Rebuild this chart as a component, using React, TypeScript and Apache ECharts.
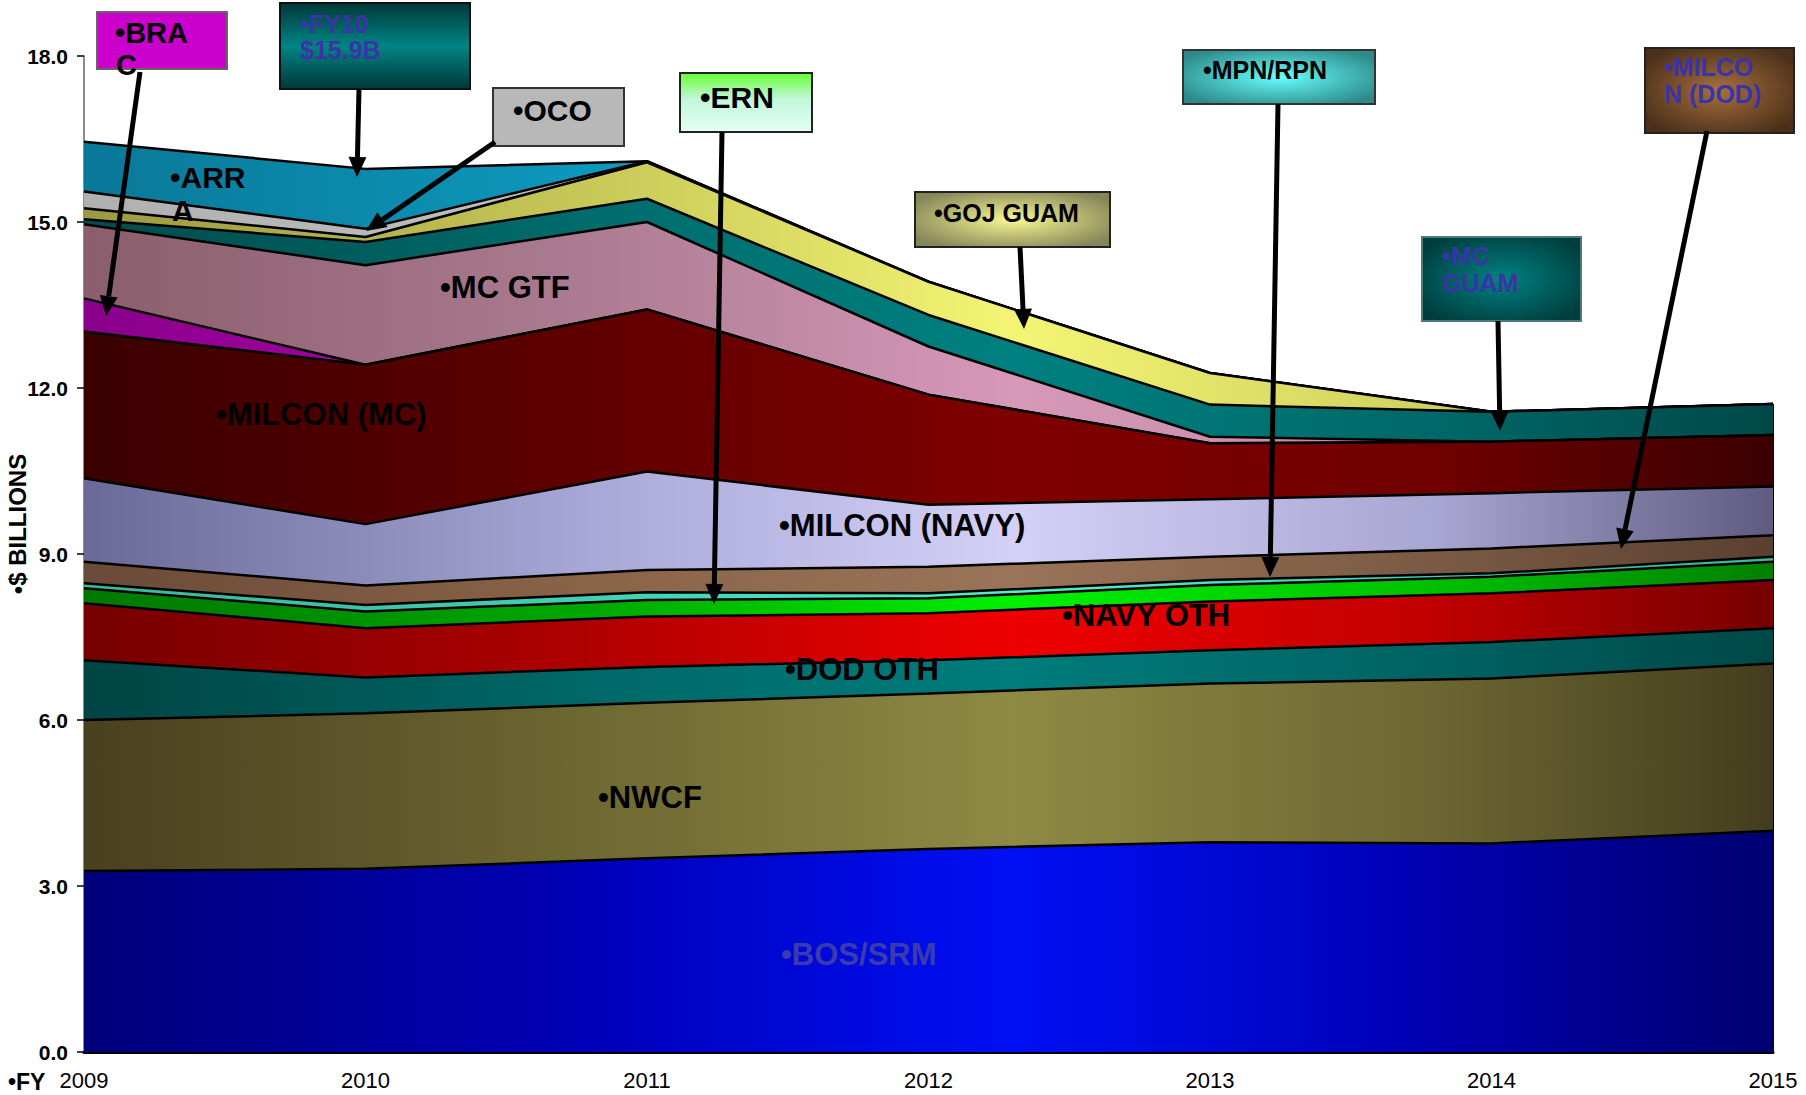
import React, { useEffect, useRef } from "react";
import * as echarts from "echarts";

// ---- data (values in $ billions) ----
const years = ["2009", "2010", "2011", "2012", "2013", "2014", "2015"];
const bosSrm = [3.27, 3.31, 3.5, 3.67, 3.79, 3.77, 4.0];
const nwcf = [2.73, 2.81, 2.81, 2.81, 2.87, 2.98, 3.02];
const dodOth = [1.08, 0.65, 0.65, 0.6, 0.6, 0.66, 0.64];
const navyOth = [1.03, 0.89, 0.91, 0.85, 0.88, 0.88, 0.87];
const ern = [0.27, 0.3, 0.3, 0.27, 0.3, 0.3, 0.33];
const mpnRpn = [0.09, 0.12, 0.14, 0.09, 0.09, 0.06, 0.09];
const milconDod = [0.39, 0.35, 0.4, 0.48, 0.42, 0.45, 0.39];
const milconNavy = [1.51, 1.11, 1.78, 1.12, 1.04, 1.0, 0.88];
const milconMc = [2.65, 2.88, 2.93, 1.99, 1.01, 0.93, 0.93];
const brac = [0.6, 0, 0, 0, 0, 0, 0];
const mcGtf = [1.34, 1.8, 1.58, 0.87, 0.12, 0, 0];
const mcGuam = [0.09, 0.42, 0.42, 0.57, 0.58, 0.54, 0.56];
const gojGuam = [0.2, 0.09, 0.66, 0.6, 0.57, 0, 0];
const oco = [0.3, 0.15, 0.02, 0, 0, 0, 0];
const arra = [0.9, 1.08, 0, 0, 0, 0, 0];

const yMin = 0;
const yMax = 18;
const yInterval = 3;

const layers = [
  { name: "BOS/SRM", data: bosSrm, stops: ["#00007a", "#0000b8", "#0010f5", "#0000b0", "#000070"] },
  { name: "NWCF", data: nwcf, stops: ["#48401f", "#6e6832", "#8e8a44", "#6c6632", "#433d1e"] },
  { name: "DOD OTH", data: dodOth, stops: ["#004444", "#006868", "#007c7c", "#006262", "#004848"] },
  { name: "NAVY OTH", data: navyOth, stops: ["#760000", "#b00000", "#f00000", "#c00000", "#760000"] },
  { name: "ERN", data: ern, stops: ["#007800", "#00a800", "#00f000", "#00c000", "#008000"] },
  { name: "MPN/RPN", data: mpnRpn, stops: ["#3ab89a", "#40d0b0", "#50f0c8", "#40d0b0", "#3ab89a"] },
  { name: "MILCON (DOD)", data: milconDod, stops: ["#6a4a38", "#8a6448", "#9a7458", "#7a5a44", "#5a4030"] },
  { name: "MILCON (NAVY)", data: milconNavy, stops: ["#6a6a98", "#a8a8d8", "#d4d0f6", "#a8a6d2", "#5e5a80"] },
  { name: "MILCON (MC)", data: milconMc, stops: ["#3a0000", "#600000", "#800000", "#700000", "#3a0000"] },
  { name: "BRAC", data: brac, stops: ["#8a008a", "#b000b0", "#d020d0", "#b000b0", "#8a008a"] },
  { name: "MC GTF", data: mcGtf, stops: ["#8a5e6c", "#ac7c92", "#d898b8", "#c08aa4", "#9a6a80"] },
  { name: "MC GUAM", data: mcGuam, stops: ["#004c4c", "#006c6c", "#008080", "#006868", "#004848"] },
  { name: "GOJ GUAM", data: gojGuam, stops: ["#9a9a40", "#c8c858", "#f4f474", "#d0d060", "#a0a048"] },
  { name: "OCO", data: oco, stops: ["#b0b0b0", "#c0c0c0", "#d0d0d0", "#c0c0c0", "#b0b0b0"] },
  { name: "ARRA", data: arra, stops: ["#0a7898", "#0c98bc", "#14aad0", "#0c98bc", "#0a7898"] },
];

const FONT = '"Liberation Sans", Arial, sans-serif';
const NARROW = '"Liberation Sans Narrow", "Arial Narrow", "Liberation Sans", sans-serif';

function arrow(x1: number, y1: number, x2: number, y2: number) {
  const dx = x2 - x1;
  const dy = y2 - y1;
  const len = Math.hypot(dx, dy);
  const ux = dx / len;
  const uy = dy / len;
  const hl = 20;
  const hw = 9;
  const bx = x2 - ux * hl;
  const by = y2 - uy * hl;
  return [
    { type: "line", z: 120, shape: { x1, y1, x2: bx, y2: by }, style: { stroke: "#000", lineWidth: 5 } },
    {
      type: "polygon",
      z: 120,
      shape: { points: [[x2, y2], [bx - uy * hw, by + ux * hw], [bx + uy * hw, by - ux * hw]] },
      style: { fill: "#000" },
    },
  ];
}

function box(x: number, y: number, w: number, h: number, fill: any, stroke: string) {
  return { type: "rect", z: 110, shape: { x, y, width: w, height: h }, style: { fill, stroke, lineWidth: 2 } };
}

function label(text: string, x: number, y: number, size: number, color = "#000", vAlign = "middle") {
  return {
    type: "text",
    z: 130,
    x,
    y,
    style: {
      text,
      font: `bold ${size}px ${FONT}`,
      fill: color,
      align: "left",
      verticalAlign: vAlign,
    },
  };
}

function radial(center: string, edge: string) {
  return new echarts.graphic.RadialGradient(0.5, 0.5, 1.0, [
    { offset: 0, color: center },
    { offset: 0.6, color: edge },
    { offset: 1, color: edge },
  ]);
}

export default function App() {
  const ref = useRef<HTMLDivElement>(null);

  useEffect(() => {
    document.body.style.margin = "0";
    document.body.style.overflow = "hidden";
    if (!ref.current) return;
    const chart = echarts.init(ref.current, null, { renderer: "svg" });

    const n = layers.length;
    const total2015 = layers.reduce((s, l) => s + l.data[years.length - 1], 0);

    const series = layers.map((l, i) => ({
      name: l.name,
      type: "line",
      stack: "total",
      data: l.data,
      symbol: "none",
      silent: true,
      z: 2 + (n - i),
      lineStyle: { color: "#000", width: 2.5 },
      areaStyle: {
        opacity: 1,
        color: new echarts.graphic.LinearGradient(0, 0, 1, 0, [
          { offset: 0, color: l.stops[0] },
          { offset: 0.3, color: l.stops[1] },
          { offset: 0.55, color: l.stops[2] },
          { offset: 0.8, color: l.stops[3] },
          { offset: 1, color: l.stops[4] },
        ]),
      },
      ...(i === n - 1
        ? {
            markLine: {
              silent: true,
              symbol: "none",
              label: { show: false },
              lineStyle: { color: "#000", width: 2, type: "solid" },
              data: [[{ coord: [years[years.length - 1], 0] }, { coord: [years[years.length - 1], total2015] }]],
            },
          }
        : {}),
    }));

    const graphic: any[] = [
      // axis titles
      {
        type: "text",
        z: 130,
        x: 17,
        y: 524,
        rotation: Math.PI / 2,
        style: { text: "•$ BILLIONS", font: `bold 24px ${FONT}`, fill: "#000", align: "center", verticalAlign: "middle" },
      },
      {
        type: "text",
        z: 130,
        x: 8,
        y: 1070,
        style: { text: "•FY", font: `bold 23px ${NARROW}`, fill: "#000", align: "left", verticalAlign: "top" },
      },
      // inner labels
      label("•ARR", 170, 177, 30),
      label("A", 172, 210, 30),
      label("•MC GTF", 440, 287, 31),
      label("•MILCON (MC)", 216, 414, 31),
      label("•MILCON (NAVY)", 779, 525, 31),
      label("•NAVY OTH", 1062, 615, 31),
      label("•DOD OTH", 785, 669, 31),
      label("•NWCF", 598, 797, 31),
      label("•BOS/SRM", 781, 954, 31, "#3b3bb0"),
      // BRAC
      box(97, 12, 130, 57, "#cc00cc", "#666"),
      ...arrow(140, 72, 106, 316),
      label("•BRA", 115, 33, 29),
      label("C", 116, 65, 29),
      // FY10
      box(
        280,
        3,
        190,
        86,
        new echarts.graphic.LinearGradient(0, 0, 0, 1, [
          { offset: 0, color: "#003838" },
          { offset: 0.5, color: "#008484" },
          { offset: 1, color: "#003838" },
        ]),
        "#111"
      ),
      label("•FY10", 300, 24, 25, "#3a34a8"),
      label("$15.9B", 300, 50, 25, "#3a34a8"),
      ...arrow(359, 89, 357, 177),
      // OCO
      box(493, 88, 131, 58, "#b8b8b8", "#333"),
      label("•OCO", 513, 110, 30),
      ...arrow(495, 142, 366, 231),
      // ERN
      box(
        680,
        73,
        132,
        59,
        new echarts.graphic.LinearGradient(0, 0, 0, 1, [
          { offset: 0, color: "#66ff33" },
          { offset: 0.45, color: "#c4f6dc" },
          { offset: 1, color: "#e4fff2" },
        ]),
        "#222"
      ),
      label("•ERN", 700, 97, 30),
      ...arrow(722, 132, 714, 604),
      // GOJ GUAM
      box(915, 192, 195, 55, radial("#f8f890", "#85855a"), "#222"),
      label("•GOJ GUAM", 934, 213, 25),
      ...arrow(1020, 247, 1024, 329),
      // MPN/RPN
      box(1183, 50, 192, 54, radial("#66ffff", "#2e8a8a"), "#333"),
      label("•MPN/RPN", 1203, 70, 25),
      ...arrow(1278, 104, 1270, 577),
      // MC GUAM
      box(1422, 237, 159, 84, radial("#008282", "#003e3e"), "#4a7a7a"),
      label("•MC", 1442, 256, 25, "#3a34a8"),
      label("GUAM", 1442, 283, 25, "#3a34a8"),
      ...arrow(1498, 321, 1500, 431),
      // MILCON (DOD)
      box(1645, 48, 149, 85, radial("#a86e40", "#4a3018"), "#222"),
      label("•MILCO", 1664, 67, 25, "#3a34a8"),
      label("N (DOD)", 1664, 94, 25, "#3a34a8"),
      ...arrow(1707, 131, 1621, 549),
    ];

    chart.setOption({
      animation: false,
      backgroundColor: "#ffffff",
      grid: { left: 84, right: 33, top: 56, bottom: 43, containLabel: false },
      xAxis: {
        type: "category",
        data: years,
        boundaryGap: false,
        axisLine: { show: true, lineStyle: { color: "#000", width: 3 } },
        axisTick: { show: false },
        axisLabel: { fontFamily: NARROW, fontSize: 22, color: "#000", margin: 17 },
        splitLine: { show: false },
      },
      yAxis: {
        type: "value",
        min: yMin,
        max: yMax,
        interval: yInterval,
        axisLine: { show: true, lineStyle: { color: "#666", width: 1.5 } },
        axisTick: { show: true, inside: false, length: 7, lineStyle: { color: "#000", width: 1.5 } },
        axisLabel: {
          fontFamily: FONT,
          fontWeight: "bold",
          fontSize: 21,
          color: "#000",
          margin: 16,
          formatter: (v: number) => v.toFixed(1),
        },
        splitLine: { show: false },
      },
      series,
      graphic,
    });

    return () => chart.dispose();
  }, []);

  return <div ref={ref} style={{ width: 1806, height: 1095 }} />;
}
